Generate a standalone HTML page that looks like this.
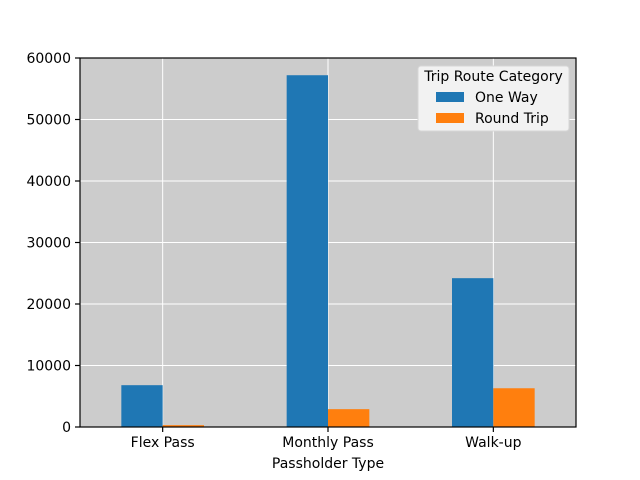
<!DOCTYPE html>
<html><head><meta charset="utf-8"><style>body{margin:0;background:#fff}svg{display:block;font-family:"DejaVu Sans","Liberation Sans",sans-serif}</style></head>
<body>
<svg id="c" width="640" height="480"></svg>
<script>
const categories=["Flex Pass","Monthly Pass","Walk-up"];
const oneWay=[6800,57200,24200];
const roundTrip=[300,2900,6300];
const yTicks=[0,10000,20000,30000,40000,50000,60000];
const seriesNames=["One Way","Round Trip"];
const colors=["#1f77b4","#ff7f0e"];
const L=80,R=576,T=58,B=427,yMax=60000;
const svg=document.getElementById('c');const NS="http://www.w3.org/2000/svg";
function y(v){return B-(v/yMax)*(B-T);}
function xc(i){return L+(R-L)*(i+0.5)/categories.length;}
const bw=(R-L)/categories.length*0.25;
function mk(t,a,txt){const e=document.createElementNS(NS,t);for(const k in a)e.setAttribute(k,a[k]);if(txt!==undefined)e.textContent=txt;svg.appendChild(e);return e;}
let e=mk('rect',{x:L,y:T,width:R-L,height:B-T,fill:'#cccccc'});


yTicks.forEach(t=>{let g=mk('line',{x1:L,x2:R,y1:y(t),y2:y(t),stroke:'#fff','stroke-width':1});


let tk=mk('line',{x1:L-5,x2:L,y1:y(t),y2:y(t),stroke:'#000','stroke-width':1.2});


let lb=mk('text',{x:L-9,y:y(t)+5,'text-anchor':'end','font-size':14},String(t));

});
categories.forEach((c,i)=>{let g=mk('line',{x1:xc(i),x2:xc(i),y1:T,y2:B,stroke:'#fff'});

});
[oneWay,roundTrip].forEach((s,j)=>s.forEach((v,i)=>{const x0=xc(i)-bw+j*bw;
let r=mk('rect',{x:x0,y:y(v),width:bw,height:B-y(v),fill:colors[j]});

}));
categories.forEach((c,i)=>{let tk=mk('line',{x1:xc(i),x2:xc(i),y1:B,y2:B+5,stroke:'#000','stroke-width':1.2});


let lb=mk('text',{x:xc(i),y:B+20,'text-anchor':'middle','font-size':14},c);

});
e=mk('rect',{x:L,y:T,width:R-L,height:B-T,fill:'none',stroke:'#000','stroke-width':1.2});


e=mk('text',{x:(L+R)/2,y:468,'text-anchor':'middle','font-size':14},'Passholder Type');


e=mk('rect',{x:418,y:66,width:151,height:65,fill:'#f2f2f2',stroke:'#d6d6d6',rx:3});


e=mk('text',{x:493.5,y:81,'text-anchor':'middle','font-size':14},'Trip Route Category');


seriesNames.forEach((n,j)=>{let s=mk('rect',{x:436,y:92+j*21,width:28,height:10,fill:colors[j]});


let t=mk('text',{x:475,y:102+j*21,'font-size':14},n);

});
</script>
</body></html>
